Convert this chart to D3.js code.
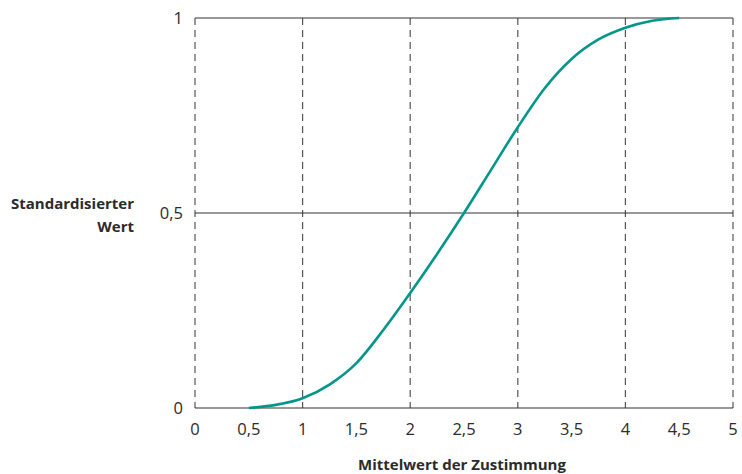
<!DOCTYPE html>
<html><head><meta charset="utf-8">
<script src="https://cdn.jsdelivr.net/npm/d3@7"></script>
<style>body{margin:0;background:#fff}svg{display:block}text{font-family:"Open Sans",Lato,sans-serif;fill:#2b2b2b}</style>
</head><body>
<svg id="c" width="742" height="474"></svg>
<script>
const xTicks=[0,0.5,1,1.5,2,2.5,3,3.5,4,4.5,5];
const xGrid=[0,1,2,3,4,5];
const yTicks=[0,0.5,1];
const curveX=[0.5,0.75,1,1.25,1.5,1.75,2,2.25,2.5,2.75,3,3.25,3.5,3.75,4,4.25,4.5];
const curveY=[0,0.008,0.025,0.06,0.115,0.2,0.295,0.395,0.5,0.61,0.72,0.82,0.895,0.945,0.975,0.993,1];
const fmt=d=>String(d).replace('.',',');
const svg=d3.select('#c');
const x=d3.scaleLinear().domain([0,5]).range([195,733]);
const y=d3.scaleLinear().domain([0,1]).range([408,18]);
svg.selectAll('.vg').data(xGrid).join('line').attr('x1',d=>x(d)).attr('x2',d=>x(d)).attr('y1',y(1)).attr('y2',y(0))
 .attr('stroke','#555').attr('stroke-width',1.2).attr('stroke-dasharray','7,5');
svg.selectAll('.hg').data(yTicks).join('line').attr('x1',x(0)).attr('x2',x(5)).attr('y1',d=>y(d)).attr('y2',d=>y(d))
 .attr('stroke','#333').attr('stroke-width',1.2);
svg.selectAll('.xt').data(xTicks).join('text').attr('x',d=>x(d)).attr('y',435).attr('text-anchor','middle').attr('font-size',16.5).text(fmt);
svg.selectAll('.yt').data(yTicks).join('text').attr('x',183).attr('y',d=>y(d)+6).attr('text-anchor','end').attr('font-size',16.5).text(fmt);
const pts=curveX.map((v,i)=>[v,curveY[i]]);
svg.append('path').datum(pts).attr('d',d3.line().x(d=>x(d[0])).y(d=>y(d[1])).curve(d3.curveMonotoneX))
 .attr('fill','none').attr('stroke','#00968a').attr('stroke-width',2.6);
svg.append('text').attr('x',462).attr('y',470).attr('text-anchor','middle').attr('font-size',15).attr('font-weight','bold').text('Mittelwert der Zustimmung');
const yt=svg.append('text').attr('text-anchor','end').attr('font-size',15).attr('font-weight','bold');
yt.append('tspan').attr('x',134).attr('y',209).text('Standardisierter');
yt.append('tspan').attr('x',134).attr('y',232).text('Wert');
</script>
</body></html>
